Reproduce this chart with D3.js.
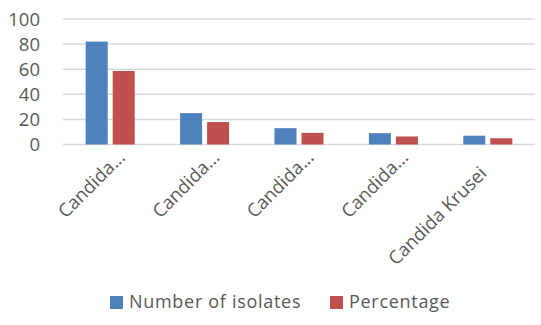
<!DOCTYPE html>
<html>
<head>
<meta charset="utf-8">
<script src="https://cdn.jsdelivr.net/npm/d3@7"></script>
<style>
  body { margin: 0; background: #fff; }
</style>
</head>
<body>
<div id="chart"></div>
<script>
const categories = ["Candida...", "Candida...", "Candida...", "Candida...", "Candida Krusei"];
const seriesNames = ["Number of isolates", "Percentage"];
const isolates = [82, 25, 13, 9, 7];
const percentage = [58.6, 17.9, 9.3, 6.4, 5.0];
const yTicks = [0, 20, 40, 60, 80, 100];
const colors = ["#4F81BD", "#C0504D"];

const width = 541, height = 325;
const margin = {top: 19, right: 6, bottom: 181, left: 63};

const svg = d3.select("#chart").append("svg")
    .attr("width", width)
    .attr("height", height)
    .style("font-family", "'Open Sans', sans-serif");

const x = d3.scaleBand()
    .domain(d3.range(categories.length))
    .range([margin.left, width - margin.right]);

const xs = d3.scaleBand()
    .domain([0, 1])
    .range([0, x.bandwidth()])
    .paddingInner(0.185)
    .paddingOuter(0.84);

const y = d3.scaleLinear()
    .domain([0, 100])
    .range([height - margin.bottom + 0.5, margin.top]);

// gridlines
svg.append("g")
    .selectAll("line")
    .data(yTicks)
    .join("line")
    .attr("x1", margin.left)
    .attr("x2", width - margin.right)
    .attr("y1", d => y(d))
    .attr("y2", d => y(d))
    .attr("stroke", "#d9d9d9")
    .attr("stroke-width", 1.5);

// y labels
svg.append("g")
    .selectAll("text")
    .data(yTicks)
    .join("text")
    .attr("x", 40)
    .attr("y", d => y(d))
    .attr("dy", "0.36em")
    .attr("text-anchor", "end")
    .attr("fill", "#595959")
    .attr("font-size", 18.5)
    .text(d => d);

const series = [isolates, percentage];

const groups = svg.append("g")
    .selectAll("g")
    .data(series)
    .join("g")
    .attr("fill", (d, i) => colors[i]);

groups.selectAll("rect")
    .data((d, si) => d.map((v, ci) => ({v, ci, si})))
    .join("rect")
    .attr("x", d => x(d.ci) + xs(d.si))
    .attr("width", xs.bandwidth())
    .attr("y", d => y(d.v))
    .attr("height", d => y(0) - y(d.v));

// x labels (truncated ones sit a bit higher/right, like Excel)
svg.append("g")
    .selectAll("text")
    .data(categories)
    .join("text")
    .attr("transform", (d, i) => {
        const cut = d.endsWith("...");
        const dx = cut ? 16 : 0, dy = cut ? 14 : 30;
        return `translate(${x(i) + x.bandwidth() / 2 + dx},${y(0) + dy}) rotate(-45)`;
    })
    .attr("text-anchor", "end")
    .attr("fill", "#595959")
    .attr("font-size", 18.5)
    .text(d => d);

// legend
const legendX = [110, 330];
const legend = svg.append("g")
    .selectAll("g")
    .data(seriesNames)
    .join("g")
    .attr("transform", (d, i) => `translate(${legendX[i]},302)`);

legend.append("rect")
    .attr("x", 0)
    .attr("y", -6)
    .attr("width", 13)
    .attr("height", 13)
    .attr("fill", (d, i) => colors[i]);

legend.append("text")
    .attr("x", 19)
    .attr("y", 0)
    .attr("dy", "0.36em")
    .attr("fill", "#595959")
    .attr("font-size", 18)
    .attr("letter-spacing", 0.7)
    .text(d => d);
</script>
</body>
</html>
